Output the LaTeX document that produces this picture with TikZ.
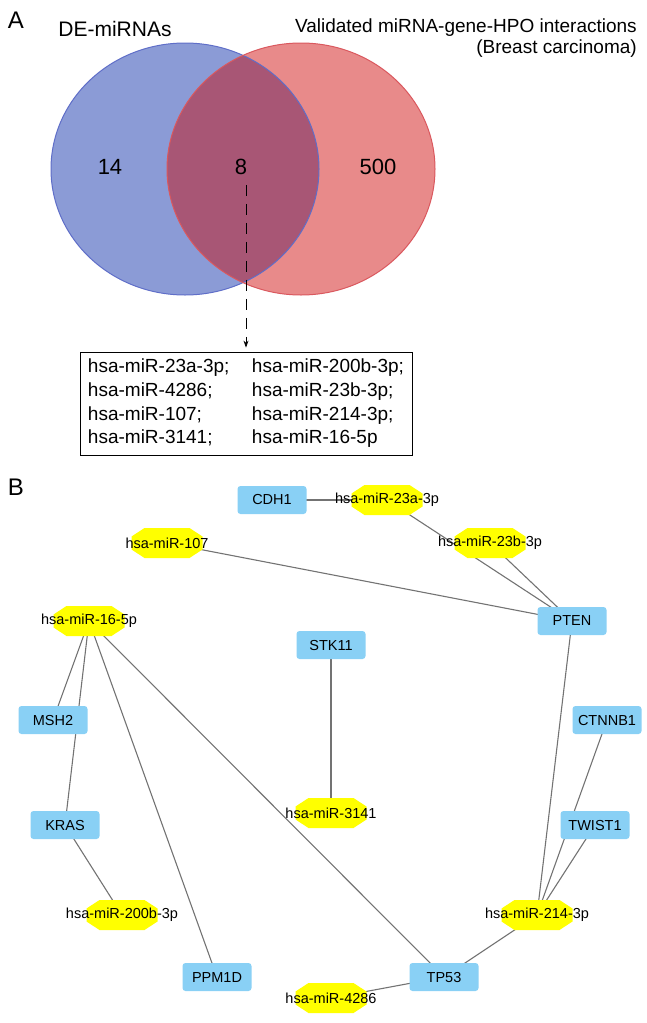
\documentclass[tikz,border=0pt]{standalone}
\usepackage{fontspec}
\setmainfont{Liberation Sans}
\usetikzlibrary{arrows.meta,backgrounds}
\definecolor{vblue}{RGB}{139,155,214}
\definecolor{vbluedark}{RGB}{95,110,200}
\definecolor{vred}{RGB}{232,138,138}
\definecolor{vreddark}{RGB}{218,88,94}
\definecolor{vmix}{RGB}{168,86,117}
\definecolor{geneblue}{RGB}{137,208,245}
\definecolor{miryellow}{RGB}{255,255,0}
\definecolor{edgegray}{RGB}{115,115,115}
\tikzset{
  gene/.style={rectangle, rounded corners=3pt, fill=geneblue, minimum width=69pt, minimum height=28pt, inner sep=0pt, font=\fontsize{14.5}{16}\selectfont},
  mir/.style={rectangle, minimum width=71pt, minimum height=30pt, inner sep=0pt,
    path picture={\fill[miryellow]
      ([xshift=13pt]path picture bounding box.north west) --
      ([xshift=-13pt]path picture bounding box.north east) --
      ([yshift=-8.5pt]path picture bounding box.north east) --
      ([yshift=8.5pt]path picture bounding box.south east) --
      ([xshift=-13pt]path picture bounding box.south east) --
      ([xshift=13pt]path picture bounding box.south west) --
      ([yshift=8.5pt]path picture bounding box.south west) --
      ([yshift=-8.5pt]path picture bounding box.north west) -- cycle;}},
  mirlab/.style={font=\fontsize{14.5}{16}\selectfont, inner sep=0pt},
  net/.style={draw=edgegray, line width=1.1pt},
  panel/.style={font=\fontsize{24}{26}\selectfont, inner sep=0pt},
  vnum/.style={font=\fontsize{22}{24}\selectfont, inner sep=2pt}
}
\begin{document}
\begin{tikzpicture}[x=1pt,y=-1pt]
\useasboundingbox (0,0) rectangle (646,1023);
% ---------- Panel A ----------
\node[panel] (pA) at (16,20) {A};
\node[font=\fontsize{21}{23}\selectfont, inner sep=0pt] (tde) at (115,29) {DE-miRNAs};
\node[font=\fontsize{19}{21.5}\selectfont, inner sep=0pt, align=right, anchor=east] (tval) at (637,38) {Validated miRNA-gene-HPO interactions\\(Breast carcinoma)};
\fill[vblue] (185,169) ellipse [x radius=134, y radius=126];
\fill[vred] (301,169) ellipse [x radius=134, y radius=126];
\begin{scope}
  \clip (185,169) ellipse [x radius=134, y radius=126];
  \fill[vmix] (301,169) ellipse [x radius=134, y radius=126];
\end{scope}
\draw[vbluedark, line width=1pt] (185,169) ellipse [x radius=134, y radius=126];
\draw[vreddark, line width=1pt] (301,169) ellipse [x radius=134, y radius=126];
\node[vnum] (n14) at (110,167) {14};
\node[vnum] (n8) at (241,167) {8};
\node[vnum] (n500) at (378,167) {500};
\node[draw, line width=0.8pt, minimum width=332pt, minimum height=103pt, inner sep=0pt,
      font=\fontsize{19}{23.7}\selectfont] (list) at (246,403.5)
  {\begin{tabular}{@{}p{164pt}@{}l@{}}
   hsa-miR-23a-3p; & hsa-miR-200b-3p;\\
   hsa-miR-4286;   & hsa-miR-23b-3p;\\
   hsa-miR-107;    & hsa-miR-214-3p;\\
   hsa-miR-3141;   & hsa-miR-16-5p
   \end{tabular}};
\draw[line width=0.8pt, dash pattern=on 11pt off 8pt, -{Stealth[length=7pt,width=5pt]},
      shorten <=8pt, shorten >=4pt] (n8.south -| list.north) -- (list.north);
% ---------- Panel B ----------
\node[panel] (pB) at (16,487) {B};
\node[gene] (CDH1) at (272,500) {CDH1};
\node[gene] (PTEN) at (572,621) {PTEN};
\node[gene] (STK11) at (331,645) {STK11};
\node[gene] (MSH2) at (53,720) {MSH2};
\node[gene] (CTNNB1) at (607,720) {CTNNB1};
\node[gene] (KRAS) at (65,825) {KRAS};
\node[gene] (TWIST1) at (595,825) {TWIST1};
\node[gene] (PPM1D) at (217,977) {PPM1D};
\node[gene] (TP53) at (444,977) {TP53};
\node[mir, label={[mirlab]center:hsa-miR-23a-3p}] (m23a) at (387,500) {};
\node[mir, label={[mirlab]center:hsa-miR-107}] (m107) at (167,543) {};
\node[mir, label={[mirlab]center:hsa-miR-23b-3p}] (m23b) at (490,543) {};
\node[mir, label={[mirlab]center:hsa-miR-16-5p}] (m16) at (89,621) {};
\node[mir, label={[mirlab]center:hsa-miR-3141}] (m3141) at (331,813) {};
\node[mir, label={[mirlab]center:hsa-miR-200b-3p}] (m200b) at (122,915) {};
\node[mir, label={[mirlab]center:hsa-miR-214-3p}] (m214) at (537,915) {};
\node[mir, label={[mirlab]center:hsa-miR-4286}] (m4286) at (331,998) {};
\begin{scope}[on background layer]
  \draw[net] (CDH1.center) -- (m23a.center);
  \draw[net] (m23a.center) -- (PTEN.center);
  \draw[net] (m23b.center) -- (PTEN.center);
  \draw[net] (m107.center) -- (PTEN.center);
  \draw[net] (m16.center) -- (MSH2.center);
  \draw[net] (m16.center) -- (KRAS.center);
  \draw[net] (m16.center) -- (PPM1D.center);
  \draw[net] (m16.center) -- (TP53.center);
  \draw[net] (STK11.center) -- (m3141.center);
  \draw[net] (KRAS.center) -- (m200b.center);
  \draw[net] (PTEN.center) -- (m214.center);
  \draw[net] (CTNNB1.center) -- (m214.center);
  \draw[net] (TWIST1.center) -- (m214.center);
  \draw[net] (m214.center) -- (TP53.center);
  \draw[net] (TP53.center) -- (m4286.center);
\end{scope}
\end{tikzpicture}
\end{document}
